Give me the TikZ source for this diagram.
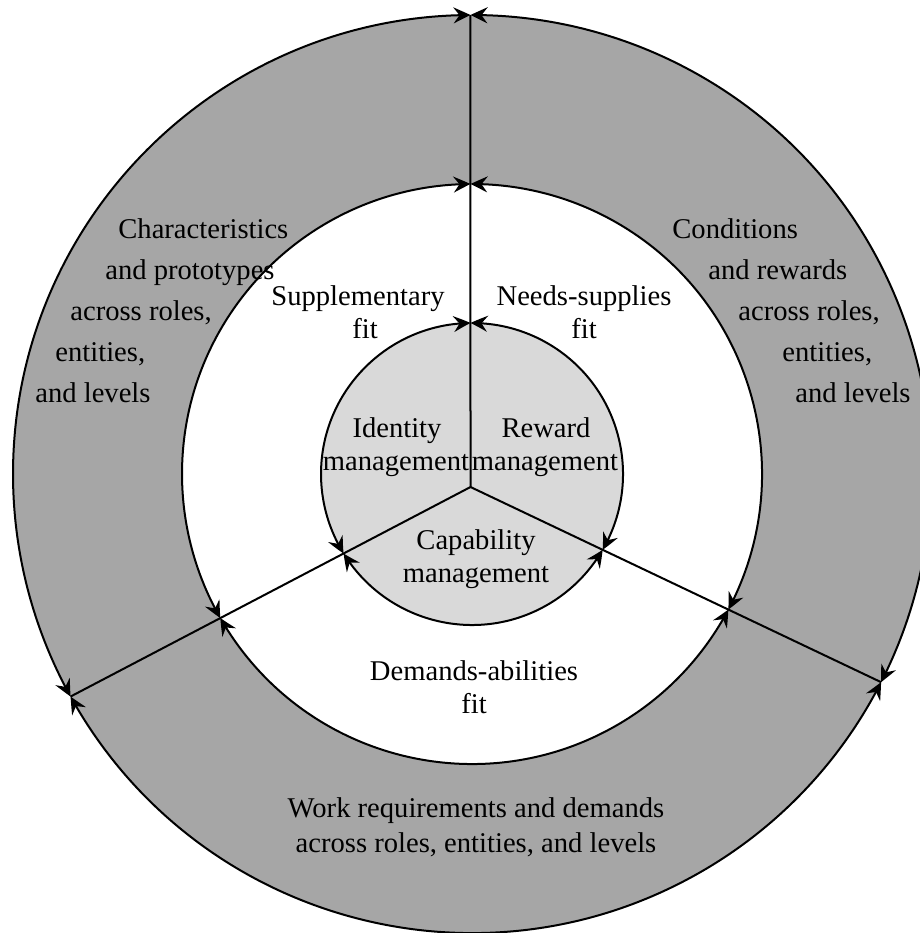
\documentclass[tikz,border=0pt]{standalone}
\usepackage{fontspec}
\setmainfont{Liberation Serif}
\usetikzlibrary{arrows.meta,bending}
\definecolor{outergray}{RGB}{166,166,166}
\definecolor{innergray}{RGB}{217,217,217}
\tikzset{
  ring/.style={line width=1pt,{Stealth[length=8.5pt,width=8pt,inset=3pt,bend]}-{Stealth[length=8.5pt,width=8pt,inset=3pt,bend]}},
  spoke/.style={line width=1pt},
  lbl/.style={anchor=base,inner sep=0pt,font=\fontsize{14.3}{17}\selectfont},
  lblw/.style={lbl,anchor=base west},
}
\begin{document}
\begin{tikzpicture}[x=0.5pt,y=0.5pt]
\useasboundingbox (0,0) rectangle (920,-933);
\clip (0,0) rectangle (920,-933);
\coordinate (C) at (472,-474);
\coordinate (J) at (470.5,-487);
\begin{scope}[shift={(472,-474)}]
  \fill[outergray] (0,0) circle[radius=459];
  \fill[white] (0,0) circle[radius=290];
  \fill[innergray] (0,0) circle[radius=151];
  \coordinate (oT) at (90.19:459);
  \coordinate (oL) at (209.0:459);
  \coordinate (oR) at (333.03:459);
  \coordinate (mT) at (90.30:290);
  \coordinate (mL) at (209.78:290);
  \coordinate (mR) at (332.13:290);
  \coordinate (iT) at (90.57:151);
  \coordinate (iL) at (211.75:151);
  \coordinate (iR) at (329.87:151);
\end{scope}
% spokes
\draw[spoke] (J) -- (oT);
\draw[spoke] (J) -- (oL);
\draw[spoke] (J) -- (oR);
% outer ring arcs
\draw[ring] (oT) arc[start angle=90.19, end angle=209.0, radius=459];
\draw[ring] (oL) arc[start angle=209.0, end angle=333.03, radius=459];
\draw[ring] (oR) arc[start angle=333.03, end angle=450.19, radius=459];
% middle ring arcs
\draw[ring] (mT) arc[start angle=90.30, end angle=209.78, radius=290];
\draw[ring] (mL) arc[start angle=209.78, end angle=332.13, radius=290];
\draw[ring] (mR) arc[start angle=332.13, end angle=450.30, radius=290];
% inner ring arcs
\draw[ring] (iT) arc[start angle=90.57, end angle=211.75, radius=151];
\draw[ring] (iL) arc[start angle=211.75, end angle=329.87, radius=151];
\draw[ring] (iR) arc[start angle=329.87, end angle=450.57, radius=151];
% left outer text
\node[lblw] (l1) at (118,-238) {Characteristics};
\node[lblw] (l2) at (105,-279) {and prototypes};
\node[lblw] (l3) at (70,-320) {across roles,};
\node[lblw] (l4) at (55,-361) {entities,};
\node[lblw] (l5) at (35,-402) {and levels};
% right outer text
\node[lblw] (r1) at (672,-238) {Conditions};
\node[lblw] (r2) at (708,-279) {and rewards};
\node[lblw] (r3) at (738,-320) {across roles,};
\node[lblw] (r4) at (782,-361) {entities,};
\node[lblw] (r5) at (795,-402) {and levels};
% middle ring text
\node[lbl] (s1) at (358,-305) {Supplementary};
\node[lbl] (s2) at (365,-338) {fit};
\node[lbl] (n1) at (584,-305) {Needs-supplies};
\node[lbl] (n2) at (584,-338) {fit};
\node[lbl] (d1) at (474,-680) {Demands-abilities};
\node[lbl] (d2) at (474,-713) {fit};
% inner text
\node[lbl] (i1) at (397,-437) {Identity};
\node[lbl] (i2) at (396,-470) {management};
\node[lbl] (w1) at (546,-437) {Reward};
\node[lbl] (w2) at (545,-470) {management};
\node[lbl] (c1) at (476,-549) {Capability};
\node[lbl] (c2) at (476,-582) {management};
% bottom outer text
\node[lbl] (b1) at (476,-817) {Work requirements and demands};
\node[lbl] (b2) at (476,-852) {across roles, entities, and levels};
\end{tikzpicture}
\end{document}
